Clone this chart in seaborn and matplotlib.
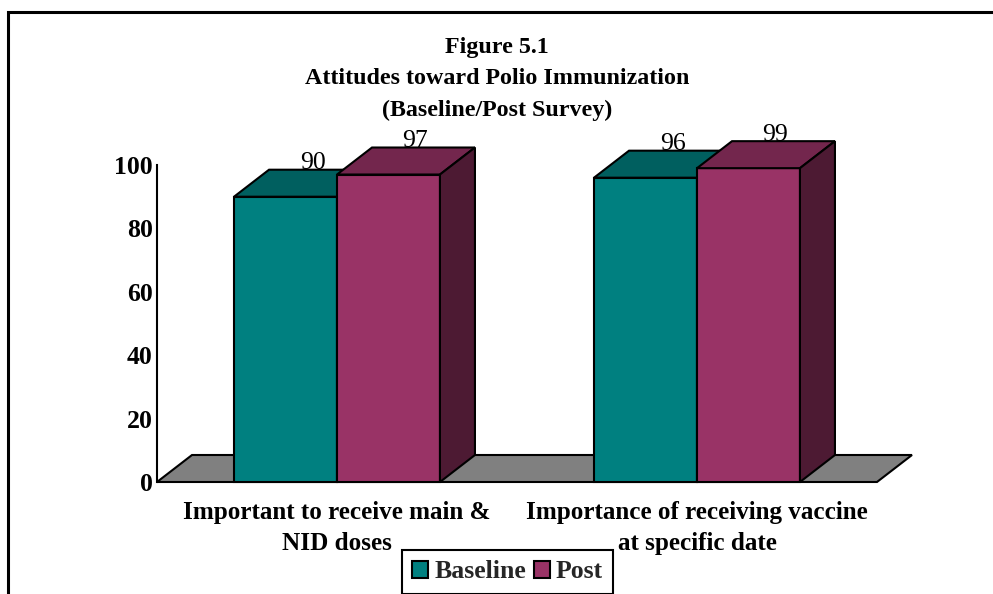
import matplotlib
matplotlib.use("Agg")
import matplotlib.pyplot as plt
from matplotlib.patches import Polygon, Rectangle, Patch
import seaborn as sns
import pandas as pd

# Chart data
categories = ["Important to receive main &\nNID doses",
              "Importance of receiving vaccine\nat specific date"]
series = ["Baseline", "Post"]
baseline = [90, 96]
post = [97, 99]
y_ticks = [0, 20, 40, 60, 80, 100]
title_lines = ["Figure 5.1",
               "Attitudes toward Polio Immunization",
               "(Baseline/Post Survey)"]

df = pd.DataFrame({
    "category": categories * 2,
    "survey": [series[0]] * len(baseline) + [series[1]] * len(post),
    "value": baseline + post,
})

front_col = {"Baseline": "#008080", "Post": "#993366"}
top_col = {"Baseline": "#005F5F", "Post": "#73264D"}
side_col = {"Baseline": "#004040", "Post": "#4D1A33"}

sns.set_theme(style="white")
plt.rcParams["font.family"] = ["Liberation Serif", "DejaVu Serif"]

FS = 18.5
W, H = 993, 594
fig = plt.figure(figsize=(W / 100, H / 100), dpi=100)
ax = fig.add_axes([157 / W, 1 - 482 / H, 720 / W, 317 / H])

sns.barplot(data=df, x="category", y="value", hue="survey",
            order=categories, hue_order=series, palette=front_col,
            width=0.572, dodge=True, gap=0, saturation=1,
            edgecolor="black", linewidth=1.5, legend=False, ax=ax)
ax.set_xlim(-0.5, 1.5)
ax.set_ylim(0, 100)

# depth of the pseudo-3D extrusion, in data units (35 px right, 27 px up)
dx = 35 / 720 * 2.0
dy = 27 / 317 * 100.0
lab_dx = 27 / 720 * 2.0

# floor
floor = Polygon([(-0.5, 0), (1.5, 0), (1.5 + dx, dy), (-0.5 + dx, dy)],
                closed=True, facecolor="#808080", edgecolor="black",
                linewidth=1.5, zorder=1, clip_on=False)
ax.add_patch(floor)

bars = [p for p in ax.patches if p is not floor]
n = len(categories)
for i, p in enumerate(bars):
    s = series[i // n]
    x0, w, h = p.get_x(), p.get_width(), p.get_height()
    z = 3 + 2 * (i // n)
    p.set_zorder(z)
    p.set_clip_on(False)
    top = Polygon([(x0, h), (x0 + w, h), (x0 + w + dx, h + dy), (x0 + dx, h + dy)],
                  closed=True, facecolor=top_col[s], edgecolor="black",
                  linewidth=1.5, zorder=z + 0.1, clip_on=False)
    side = Polygon([(x0 + w, 0), (x0 + w + dx, dy), (x0 + w + dx, h + dy), (x0 + w, h)],
                   closed=True, facecolor=side_col[s], edgecolor="black",
                   linewidth=1.5, zorder=z + 0.1, clip_on=False)
    ax.add_patch(top)
    ax.add_patch(side)
    ax.text(x0 + w / 2 + lab_dx, h + dy + 0.2, f"{h:g}", ha="center",
            va="baseline", fontsize=FS, color="black", zorder=20)

# axes styling
for k in ("top", "right", "bottom"):
    ax.spines[k].set_visible(False)
ax.spines["left"].set_color("black")
ax.spines["left"].set_linewidth(1.5)
ax.spines["left"].set_zorder(2)
ax.set_yticks(y_ticks)
ax.set_yticklabels([str(t) for t in y_ticks], fontsize=FS, fontweight="bold")
ax.set_xticks(range(n))
ax.set_xticklabels(categories, fontsize=18.1, fontweight="bold", linespacing=1.4)
ax.tick_params(axis="y", length=0, pad=3, colors="black")
ax.tick_params(axis="x", length=0, pad=14, colors="black")
ax.set_xlabel("")
ax.set_ylabel("")
ax.set_facecolor("none")

# title
for line, yp in zip(title_lines, [47, 79, 110]):
    fig.text(497 / W, 1 - yp / H, line, ha="center", va="center",
             fontsize=17.3, fontweight="bold", color="black")

# legend
handles = [Patch(facecolor=front_col[s], edgecolor="black", linewidth=1.5) for s in series]
leg = fig.legend(handles, series, loc="upper left",
                 bbox_to_anchor=(402 / W, 1 - 550 / H), ncol=2, frameon=True,
                 fancybox=False, edgecolor="black", framealpha=1,
                 prop={"weight": "bold", "size": FS},
                 handlelength=0.62, handleheight=0.62, handletextpad=0.23,
                 columnspacing=0.3, borderpad=0.4, borderaxespad=0)
leg.get_frame().set_linewidth(1.5)

# outer frame
fig.add_artist(Rectangle((8 / W, -0.05), 1.0, 1 - 12 / H + 0.05,
                         transform=fig.transFigure, fill=False,
                         edgecolor="black", linewidth=2.2, clip_on=False))

fig.savefig("out.png", dpi=100)
